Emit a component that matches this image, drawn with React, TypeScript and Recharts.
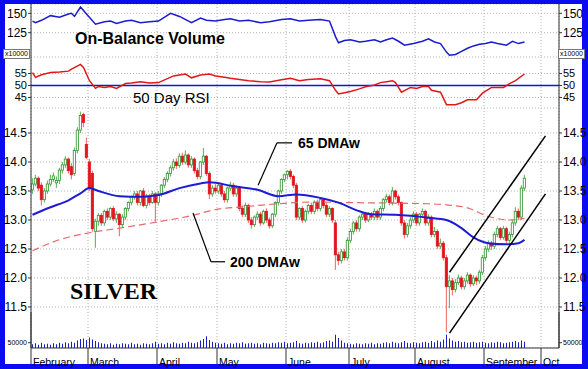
import React from 'react';
import { ComposedChart, Bar, Line, XAxis, YAxis, CartesianGrid, ReferenceLine } from 'recharts';

// daily candles [open, high, low, close, volume], one array per month
const feb = [
  [13.52, 13.72, 13.45, 13.62, 35000], [13.62, 13.78, 13.58, 13.72, 45000], [13.72, 13.75, 13.5, 13.55, 30000],
  [13.6, 13.65, 13.25, 13.35, 50000], [13.35, 13.55, 13.3, 13.5, 35000], [13.5, 13.68, 13.45, 13.62, 40000],
  [13.62, 13.78, 13.58, 13.7, 30000], [13.7, 13.82, 13.66, 13.76, 45000], [13.64, 13.75, 13.55, 13.68, 35000],
  [13.68, 13.9, 13.62, 13.86, 50000], [13.86, 14.0, 13.8, 13.95, 40000], [13.95, 14.1, 13.9, 14.05, 55000],
  [14.05, 14.08, 13.8, 13.85, 45000], [13.92, 13.98, 13.7, 13.78, 60000], [13.8, 14.25, 13.76, 14.2, 50000],
  [14.2, 14.6, 14.15, 14.55, 70000], [14.55, 14.87, 14.5, 14.8, 85000], [14.82, 14.85, 14.6, 14.68, 90000],
  [14.3, 14.42, 14.05, 14.08, 75000],
];
const mar = [
  [14.0, 14.05, 13.5, 13.55, 100000], [13.8, 13.85, 12.8, 12.85, 80000], [12.8, 13.02, 12.52, 12.98, 65000],
  [12.98, 13.12, 12.9, 13.08, 55000], [13.08, 13.12, 12.9, 12.95, 45000], [12.95, 13.18, 12.9, 13.15, 40000],
  [13.15, 13.2, 13.0, 13.05, 35000], [13.05, 13.22, 13.0, 13.2, 45000], [13.2, 13.24, 12.98, 13.02, 30000],
  [13.02, 13.15, 12.95, 13.1, 40000], [13.1, 13.12, 12.72, 12.92, 35000], [12.92, 13.1, 12.88, 13.05, 45000],
  [13.05, 13.22, 13.0, 13.2, 40000], [13.2, 13.32, 13.15, 13.3, 35000], [13.3, 13.42, 13.25, 13.4, 50000],
  [13.4, 13.5, 13.35, 13.45, 35000], [13.45, 13.5, 13.25, 13.3, 40000], [13.3, 13.52, 13.25, 13.5, 30000],
  [13.5, 13.55, 13.22, 13.25, 45000], [13.25, 13.45, 13.2, 13.4, 40000], [13.4, 13.45, 13.25, 13.3, 35000],
  [13.3, 13.5, 13.28, 13.45, 45000], [13.45, 13.48, 12.97, 13.3, 60000],
];
const apr = [
  [13.3, 13.5, 13.25, 13.45, 40000], [13.45, 13.62, 13.4, 13.6, 45000], [13.6, 13.74, 13.55, 13.7, 35000],
  [13.7, 13.84, 13.65, 13.8, 50000], [13.8, 13.94, 13.75, 13.9, 40000], [13.9, 14.05, 13.85, 14.0, 55000],
  [14.0, 14.06, 13.88, 13.94, 45000], [13.94, 14.15, 13.9, 14.1, 40000], [14.1, 14.16, 13.95, 14.0, 50000],
  [14.0, 14.2, 13.96, 14.12, 45000], [14.12, 14.15, 13.9, 13.95, 60000], [13.95, 14.1, 13.9, 14.05, 50000],
  [14.05, 14.08, 13.8, 13.85, 45000], [13.85, 13.9, 13.7, 13.75, 55000], [13.75, 14.02, 13.7, 14.0, 70000],
  [14.0, 14.24, 13.95, 14.1, 85000], [14.1, 14.12, 13.76, 13.8, 110000], [13.8, 13.84, 13.36, 13.45, 75000],
  [13.45, 13.6, 13.4, 13.55, 60000], [13.55, 13.62, 13.45, 13.5, 50000],
];
const may = [
  [13.5, 13.65, 13.45, 13.6, 45000], [13.6, 13.64, 13.4, 13.45, 40000], [13.45, 13.5, 13.3, 13.35, 50000],
  [13.35, 13.58, 13.3, 13.55, 35000], [13.55, 13.66, 13.5, 13.6, 45000], [13.6, 13.64, 13.4, 13.45, 40000],
  [13.45, 13.6, 13.4, 13.55, 50000], [13.55, 13.58, 13.15, 13.2, 45000], [13.2, 13.25, 13.05, 13.1, 55000],
  [13.1, 13.3, 13.05, 13.25, 40000], [13.25, 13.28, 12.95, 13.0, 45000], [13.0, 13.05, 12.85, 12.92, 50000],
  [12.92, 13.08, 12.88, 13.05, 40000], [13.05, 13.15, 13.0, 13.1, 45000], [13.1, 13.14, 12.9, 12.95, 35000],
  [12.95, 13.18, 12.92, 13.15, 50000], [13.15, 13.2, 12.95, 13.0, 45000], [13.0, 13.04, 12.85, 12.9, 40000],
  [12.9, 13.12, 12.86, 13.1, 50000], [13.1, 13.32, 13.05, 13.3, 45000], [13.3, 13.52, 13.25, 13.5, 55000],
  [13.5, 13.72, 13.45, 13.7, 50000], [13.7, 13.8, 13.65, 13.78, 60000],
];
const jun = [
  [13.78, 13.86, 13.7, 13.84, 45000], [13.84, 13.88, 13.7, 13.75, 50000], [13.75, 13.78, 13.55, 13.6, 55000],
  [13.6, 13.64, 13.0, 13.05, 65000], [13.05, 13.22, 13.0, 13.2, 45000], [13.2, 13.24, 12.95, 13.0, 40000],
  [13.0, 13.18, 12.96, 13.15, 50000], [13.15, 13.28, 13.1, 13.25, 45000], [13.25, 13.3, 13.1, 13.15, 55000],
  [13.15, 13.34, 13.1, 13.3, 50000], [13.3, 13.35, 13.15, 13.2, 60000], [13.2, 13.38, 13.15, 13.35, 45000],
  [13.35, 13.38, 13.2, 13.25, 55000], [13.25, 13.3, 13.05, 13.1, 65000], [13.1, 13.24, 13.05, 13.2, 70000],
  [13.2, 13.22, 12.95, 13.0, 60000], [12.95, 13.0, 12.14, 12.4, 125000], [12.4, 12.45, 12.22, 12.3, 95000],
  [12.3, 12.5, 12.25, 12.45, 70000], [12.45, 12.5, 12.3, 12.35, 50000], [12.35, 12.7, 12.3, 12.65, 45000],
];
const jul = [
  [12.65, 12.85, 12.6, 12.8, 40000], [12.8, 12.98, 12.75, 12.95, 35000], [12.95, 13.0, 12.8, 12.85, 45000],
  [12.85, 13.08, 12.8, 13.05, 40000], [13.05, 13.15, 13.0, 13.1, 35000], [13.1, 13.14, 12.95, 13.0, 45000],
  [13.0, 13.14, 12.96, 13.1, 40000], [13.1, 13.14, 13.0, 13.05, 50000], [13.05, 13.2, 13.0, 13.15, 35000],
  [13.15, 13.18, 13.0, 13.05, 45000], [13.05, 13.24, 13.0, 13.2, 40000], [13.2, 13.38, 13.15, 13.35, 50000],
  [13.35, 13.45, 13.3, 13.4, 55000], [13.4, 13.44, 13.25, 13.3, 45000], [13.3, 13.57, 13.25, 13.5, 60000],
  [13.5, 13.52, 13.35, 13.4, 50000], [13.4, 13.44, 13.25, 13.3, 45000], [13.3, 13.32, 12.9, 12.95, 55000],
  [12.95, 13.0, 12.68, 12.75, 65000], [12.75, 12.95, 12.7, 12.9, 50000], [12.9, 13.05, 12.85, 13.0, 45000],
  [13.0, 13.15, 12.95, 13.1, 55000],
];
const aug = [
  [13.1, 13.14, 12.9, 12.95, 50000], [12.95, 13.12, 12.9, 13.1, 45000], [13.1, 13.2, 13.05, 13.15, 55000],
  [13.15, 13.18, 12.9, 12.95, 60000], [12.95, 13.1, 12.9, 13.05, 50000], [13.05, 13.08, 12.7, 12.75, 65000],
  [12.75, 12.88, 12.7, 12.8, 55000], [12.8, 12.84, 12.5, 12.55, 70000], [12.55, 12.68, 12.5, 12.6, 60000],
  [12.6, 12.64, 12.3, 12.35, 80000], [12.35, 12.4, 11.07, 11.85, 125000], [11.85, 12.05, 11.48, 11.95, 90000],
  [11.95, 12.0, 11.7, 11.8, 70000], [11.8, 11.98, 11.75, 11.92, 60000], [11.92, 12.06, 11.88, 12.0, 65000],
  [12.0, 12.04, 11.8, 11.85, 55000], [11.85, 12.0, 11.8, 11.95, 60000], [11.95, 12.1, 11.9, 12.05, 50000],
  [12.05, 12.08, 11.85, 11.9, 55000], [11.9, 12.05, 11.86, 12.0, 60000], [12.0, 12.04, 11.88, 11.95, 50000],
  [11.95, 12.14, 11.9, 12.1, 55000], [12.1, 12.4, 12.05, 12.35, 60000],
];
const sep = [
  [12.35, 12.55, 12.3, 12.5, 50000], [12.5, 12.65, 12.45, 12.6, 45000], [12.6, 12.64, 12.48, 12.55, 55000],
  [12.55, 12.8, 12.5, 12.75, 50000], [12.75, 12.9, 12.7, 12.85, 60000], [12.85, 12.88, 12.65, 12.7, 55000],
  [12.7, 12.9, 12.66, 12.85, 45000], [12.85, 12.88, 12.6, 12.65, 50000], [12.65, 12.8, 12.6, 12.75, 55000],
  [12.75, 13.0, 12.7, 12.95, 60000], [12.95, 13.22, 12.9, 13.15, 65000], [13.15, 13.2, 13.0, 13.05, 55000],
  [13.05, 13.6, 13.0, 13.55, 70000], [13.55, 13.78, 13.5, 13.72, 60000],
];

const monthNames = ['February', 'March', 'April', 'May', 'June', 'July', 'August', 'September', 'Oct'];
const tradingDays = [19, 23, 20, 23, 21, 22, 23, 19];

// [trading day, value]
const ma65 = [
  [0, 13.09], [6, 13.22], [12, 13.34], [16, 13.46], [19, 13.55], [22, 13.5], [29, 13.41], [36, 13.4],
  [42, 13.43], [49, 13.55], [56, 13.63], [59, 13.65], [67, 13.58], [75, 13.52], [82, 13.41], [88, 13.44],
  [96, 13.38], [102, 13.3], [109, 13.15], [113, 13.1], [121, 13.09], [132, 13.04], [138, 13.0], [143, 12.86],
  [147, 12.7], [152, 12.6], [158, 12.58], [162, 12.6], [164, 12.66],
];
const ma200 = [
  [0, 12.47], [9, 12.66], [19, 12.78], [29, 12.86], [42, 12.97], [55, 13.1], [60, 13.17], [71, 13.23],
  [82, 13.28], [93, 13.31], [105, 13.3], [122, 13.29], [132, 13.28], [138, 13.26], [145, 13.21], [152, 13.06],
  [159, 13.0], [164, 13.03],
];
const obv = [
  [0, 140], [1, 138], [3, 141], [6, 147], [9, 145], [12, 149], [13, 150], [14, 146], [16, 158], [18, 149],
  [21, 136], [24, 139], [26, 140], [28, 137], [31, 140], [33, 141], [36, 138], [39, 139], [42, 140], [46, 150],
  [49, 146], [53, 138], [56, 144], [58, 141], [61, 140], [64, 142], [66, 143], [69, 140], [72, 141], [76, 138],
  [79, 139], [83, 142], [86, 143], [89, 140], [92, 141], [96, 142], [99, 140], [101, 120], [102, 112], [104, 115],
  [106, 116], [109, 113], [111, 114], [114, 116], [116, 113], [118, 116], [120, 118], [122, 114], [124, 109], [127, 111],
  [130, 114], [132, 117], [134, 113], [136, 111], [138, 100], [139, 96], [141, 97], [143, 101], [145, 105], [147, 108],
  [149, 110], [151, 111], [153, 113], [155, 111], [158, 109], [160, 114], [162, 111], [164, 113],
];
const rsi = [
  [0, 55.4], [1, 53.4], [3, 54.5], [6, 55.4], [9, 55.6], [12, 56], [13, 56.8], [16, 58.8], [17, 57.5], [19, 52],
  [21, 48.8], [22, 49.6], [24, 49.2], [26, 49.6], [28, 48.8], [31, 50.8], [33, 51], [36, 51.6], [39, 51], [42, 51.2],
  [47, 54], [51, 54.8], [53, 53.2], [56, 54.4], [59, 54.8], [61, 54], [64, 53.4], [66, 53], [69, 52.5], [72, 52],
  [76, 51.6], [79, 51.5], [83, 52.4], [86, 53], [89, 52], [92, 52.5], [96, 52.8], [99, 52], [101, 48], [102, 46.5],
  [104, 47], [106, 47.5], [109, 48.6], [111, 49.5], [114, 50.2], [116, 51.2], [118, 51.6], [120, 52], [121, 51.2],
  [123, 47.2], [126, 49.2], [128, 48.8], [130, 49.6], [132, 49.6], [133, 48], [136, 47.2], [138, 42], [141, 42],
  [143, 42.8], [145, 44], [148, 44], [150, 46.8], [153, 49.2], [157, 49.2], [159, 50.8], [161, 52], [164, 54.8],
];
// trend channel drawn on the August-September rally
const channel = [
  [[139, 12.1], [171, 14.45]],
  [[139, 11.05], [171, 13.45]],
];
// leader lines for the moving-average labels
const leader65 = [[75.2, 13.6], [81.5, 14.33], [86.5, 14.33]];
const leader200 = [[53.5, 13.12], [59.5, 12.28], [64.2, 12.28]];

const candles = [feb, mar, apr, may, jun, jul, aug, sep].flat().map(([o, h, l, c, v], i) => ({
  i, open: o, high: h, low: l, close: c, range: [l, h], vol: v,
}));
const monthTicks = tradingDays.reduce((acc, d) => [...acc, acc[acc.length - 1] + d], [-0.5]);
const toPoints = (rows: number[][]) => rows.map(([i, v]) => ({ i, v }));

const X_DOMAIN = [-0.5, 175.5];
const M = { top: 0, right: 6, bottom: 0, left: 8 };
const FONT = 'Liberation Sans, Arial, sans-serif';
const GRID = '#b4b4b4';

function yAxes(domain: number[], ticks: number[], fmt?: (v: number) => string, fontSize = 12) {
  const common = {
    type: 'number' as const,
    domain,
    ticks,
    allowDataOverflow: true,
    width: 23,
    tickSize: 3,
    tickMargin: 1,
    tickFormatter: fmt,
    axisLine: { stroke: '#333' },
    tickLine: { stroke: '#333' },
    tick: { fontSize, fill: '#000', fontFamily: FONT },
    interval: 0 as const,
  };
  return [
    <YAxis key="l" yAxisId="l" orientation="left" {...common} />,
    <YAxis key="r" yAxisId="r" orientation="right" {...common} />,
  ];
}

const hiddenX = (
  <XAxis type="number" dataKey="i" domain={X_DOMAIN} ticks={monthTicks} hide allowDataOverflow />
);

function Candle(props: any) {
  const { x, y, width, height, payload } = props;
  if (!payload || y == null) return null;
  const top = Math.min(y, y + height);
  const h = Math.abs(height);
  const span = payload.high - payload.low || 1;
  const toY = (v: number) => top + ((payload.high - v) / span) * h;
  const cx = x + width / 2;
  const up = payload.close >= payload.open;
  const y1 = toY(Math.max(payload.open, payload.close));
  const y2 = toY(Math.min(payload.open, payload.close));
  return (
    <g>
      <line x1={cx} x2={cx} y1={top} y2={top + h} stroke={up ? '#52ad52' : '#ec6468'} strokeWidth={1} />
      <rect
        x={cx - 1.1}
        y={y1}
        width={2.2}
        height={Math.max(y2 - y1, 1)}
        fill={up ? '#ffffff' : '#e3121b'}
        stroke={up ? '#2f952f' : '#e3121b'}
        strokeWidth={0.8}
      />
    </g>
  );
}

function MonthTick(props: any) {
  const { x, y, payload } = props;
  const k = monthTicks.indexOf(payload.value);
  return (
    <text x={x + 2} y={y - 7} dy="0.71em" fontSize={10.5} fontFamily={FONT} fill="#000" textAnchor="start">
      {monthNames[k]}
    </text>
  );
}

const seg = (pts: number[][]) => pts.slice(1).map((p, k) => [
  { x: pts[k][0], y: pts[k][1] },
  { x: p[0], y: p[1] },
]);

const textStyle = (left: number, top: number, size: number, bold: boolean, family = FONT): React.CSSProperties => ({
  position: 'absolute', left, top, fontSize: size, fontWeight: bold ? 700 : 400,
  fontFamily: family, color: '#000', lineHeight: `${size}px`, whiteSpace: 'nowrap',
});

const unitBox: React.CSSProperties = {
  position: 'absolute', top: 49, width: 25, height: 8, fontSize: 7, lineHeight: '8px',
  fontFamily: FONT, border: '1px solid #777', background: '#fff', textAlign: 'center', color: '#000',
};

export default function App() {
  return (
    <div style={{ position: 'absolute', left: 0, top: 0, width: 588, height: 369, background: '#0b0bf2', overflow: 'hidden' }}>
      <div style={{ position: 'absolute', left: 5, top: 4, width: 577, height: 360, background: '#fff' }} />

      {/* On-Balance Volume */}
      <div style={{ position: 'absolute', left: 0, top: 4 }}>
        <ComposedChart width={588} height={53} margin={M} data={toPoints(obv)}>
          {hiddenX}
          {yAxes([93.7, 162], [125, 150])}
          <CartesianGrid yAxisId="l" strokeDasharray="1 2" stroke={GRID} />
          <Line yAxisId="l" dataKey="v" stroke="#1a1ad0" strokeWidth={1.5} dot={false} isAnimationActive={false} />
        </ComposedChart>
      </div>

      {/* 50 day RSI */}
      <div style={{ position: 'absolute', left: 0, top: 57 }}>
        <ComposedChart width={588} height={51} margin={M} data={toPoints(rsi)}>
          {hiddenX}
          {yAxes([40.6, 61.9], [45, 50, 55], undefined, 11)}
          <CartesianGrid yAxisId="l" strokeDasharray="1 2" stroke={GRID} />
          <ReferenceLine yAxisId="l" y={50} stroke="#1414d8" strokeWidth={1.5} />
          <Line yAxisId="l" dataKey="v" stroke="#e01818" strokeWidth={1.5} dot={false} isAnimationActive={false} />
        </ComposedChart>
      </div>

      {/* price */}
      <div style={{ position: 'absolute', left: 0, top: 108 }}>
        <ComposedChart width={588} height={240} margin={M} data={candles}>
          {hiddenX}
          {yAxes([10.793, 14.931], [11.5, 12, 12.5, 13, 13.5, 14, 14.5], (v) => v.toFixed(1))}
          <CartesianGrid yAxisId="l" strokeDasharray="1 2" stroke={GRID} />
          <Line yAxisId="l" data={toPoints(ma200)} dataKey="v" type="monotone" stroke="#e46a6a" strokeWidth={1.2}
            strokeDasharray="7 4" dot={false} isAnimationActive={false} />
          <Bar yAxisId="l" dataKey="range" barSize={3} shape={Candle} isAnimationActive={false} />
          <Line yAxisId="l" data={toPoints(ma65)} dataKey="v" type="monotone" stroke="#1c1cd6" strokeWidth={2}
            dot={false} isAnimationActive={false} />
          {channel.map((pts, k) => (
            <ReferenceLine key={`c${k}`} yAxisId="l" segment={[{ x: pts[0][0], y: pts[0][1] }, { x: pts[1][0], y: pts[1][1] }]}
              stroke="#000" strokeWidth={1.5} ifOverflow="visible" />
          ))}
          {[...seg(leader65), ...seg(leader200)].map((s, k) => (
            <ReferenceLine key={`l${k}`} yAxisId="l" segment={s} stroke="#000" strokeWidth={1.2} ifOverflow="visible" />
          ))}
        </ComposedChart>
      </div>

      {/* volume + month axis */}
      <div style={{ position: 'absolute', left: 0, top: 312 }}>
        <ComposedChart width={588} height={57} margin={M} data={candles}>
          <XAxis type="number" dataKey="i" domain={X_DOMAIN} ticks={monthTicks} allowDataOverflow height={21}
            interval={0} tickSize={16} axisLine={{ stroke: '#333' }} tickLine={{ stroke: '#333' }} tick={<MonthTick />} />
          {yAxes([0, 340000], [50000], undefined, 7)}
          <Bar yAxisId="l" dataKey="vol" barSize={1} fill="#1c1cc4" isAnimationActive={false} />
        </ComposedChart>
      </div>

      <div style={{ ...unitBox, left: 3 }}><span>x10000</span></div>
      <div style={{ ...unitBox, left: 558 }}><span>x10000</span></div>

      <div style={textStyle(75, 31, 16, true)}>On-Balance Volume</div>
      <div style={textStyle(133, 90, 15, false)}>50 Day RSI</div>
      <div style={textStyle(298, 136, 14, true)}>65 DMAw</div>
      <div style={textStyle(230, 255, 14, true)}>200 DMAw</div>
      <div style={textStyle(70, 279, 24, true, 'Liberation Serif, Times New Roman, serif')}>SILVER</div>
    </div>
  );
}
